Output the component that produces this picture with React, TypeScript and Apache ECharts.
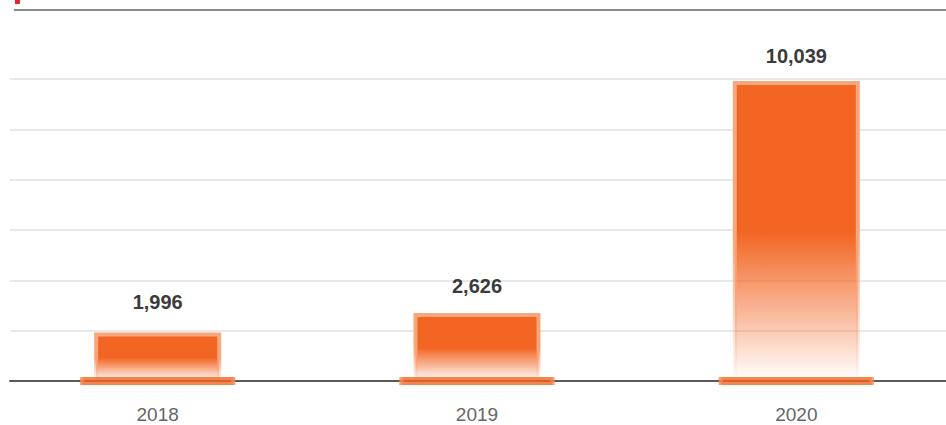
import React, { useEffect, useRef } from 'react';
import * as echarts from 'echarts';

const categories = ['2018', '2019', '2020'];
const values = [1996, 2626, 10039];
const labelDistances = [21, 17, 15];
const yMin = 450;
const yMax = 10100;
const gridCount = 6;

const FONT = '"Liberation Sans", Arial, sans-serif';

export default function App() {
  const ref = useRef<HTMLDivElement>(null);
  useEffect(() => {
    const chart = echarts.init(ref.current!, null, { renderer: 'svg' });
    const fill = {
      type: 'linear', x: 0, y: 0, x2: 0, y2: 1,
      colorStops: [
        { offset: 0, color: '#f26522' },
        { offset: 0.5, color: '#f26522' },
        { offset: 1, color: 'rgba(242,101,34,0)' },
      ],
    };
    const border = {
      type: 'linear', x: 0, y: 0, x2: 0, y2: 1,
      colorStops: [
        { offset: 0, color: '#f8a67c' },
        { offset: 0.5, color: '#f8a67c' },
        { offset: 1, color: 'rgba(248,166,124,0)' },
      ],
    };
    const interval = (yMax - yMin) / gridCount;
    chart.setOption({
      animation: false,
      backgroundColor: '#ffffff',
      grid: [
        { left: 10, width: 936, top: 79, height: 302, outerBoundsMode: 'none', containLabel: false },
        { left: -2, width: 958, top: 79, height: 302, outerBoundsMode: 'none', containLabel: false },
      ],
      xAxis: [
        {
          gridIndex: 0, type: 'category', data: categories,
          axisLine: { show: true, lineStyle: { color: '#5a5a5a', width: 2 } },
          axisTick: { show: false }, axisLabel: { show: false }, splitLine: { show: false },
        },
        {
          gridIndex: 1, type: 'category', data: categories,
          axisLine: { show: false }, axisTick: { show: false }, splitLine: { show: false },
          axisLabel: { margin: 24, fontSize: 19, color: '#666666', fontFamily: FONT },
        },
      ],
      yAxis: [
        {
          gridIndex: 0, type: 'value', min: yMin, max: yMax, interval,
          axisLine: { show: false }, axisTick: { show: false }, axisLabel: { show: false },
          splitLine: { show: true, lineStyle: { color: '#e8e8e8', width: 2 } },
        },
        {
          gridIndex: 1, type: 'value', min: yMin, max: yMax, interval,
          axisLine: { show: false }, axisTick: { show: false }, axisLabel: { show: false },
          splitLine: { show: false },
        },
      ],
      series: [
        {
          type: 'bar', xAxisIndex: 1, yAxisIndex: 1, barWidth: 127,
          itemStyle: { color: fill, borderColor: border, borderWidth: 4 },
          label: {
            show: true, position: 'top', fontSize: 20, fontWeight: 'bold',
            color: '#3b3b3b', fontFamily: FONT,
            formatter: (p: any) => Number(p.value).toLocaleString('en-US'),
          },
          data: values.map((v, i) => ({ value: v, label: { distance: labelDistances[i] } })),
          z: 2,
        },
        {
          type: 'scatter', xAxisIndex: 1, yAxisIndex: 1, symbol: 'rect',
          symbolSize: [151, 8], clip: false, silent: true,
          itemStyle: { color: '#f26522', borderColor: '#f58a55', borderWidth: 1 },
          data: categories.map((c) => [c, yMin]),
          z: 5,
        },
      ],
      graphic: [
        { type: 'line', shape: { x1: 14, y1: 10, x2: 946, y2: 10 }, style: { stroke: '#8a8a8a', lineWidth: 2 } },
        { type: 'rect', shape: { x: 15, y: 0, width: 5, height: 4 }, style: { fill: '#e3262b' } },
      ],
    });
    return () => chart.dispose();
  }, []);
  return (
    <div
      ref={ref}
      style={{ position: 'fixed', left: 0, top: 0, width: 946, height: 425, background: '#fff' }}
    />
  );
}
